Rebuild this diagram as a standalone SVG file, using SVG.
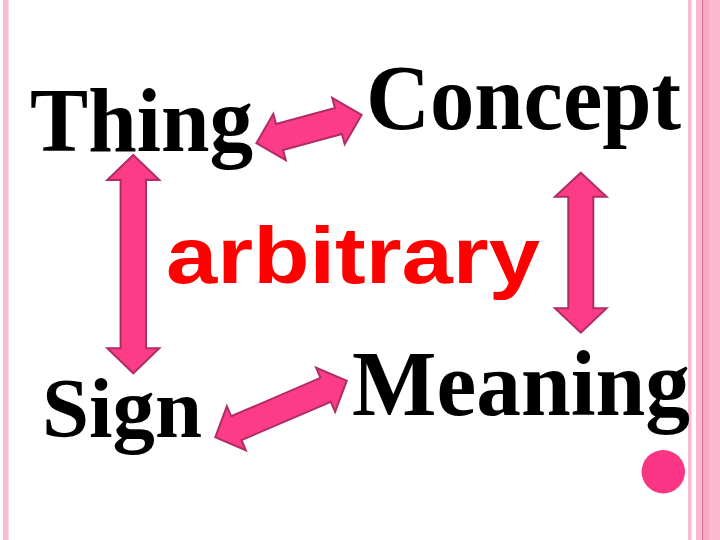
<svg xmlns="http://www.w3.org/2000/svg" width="720" height="540" viewBox="0 0 720 540">
<style>
.w{font-family:"Liberation Serif","Times New Roman",serif;font-weight:bold;fill:#000}
.arb{font-family:"Liberation Sans",Arial,sans-serif;font-weight:bold;fill:#FF0000}
.arr{fill:#FC3C87;stroke:#B02C66;stroke-width:2;stroke-linejoin:miter}
.bd{fill:#FBB8CE}
</style>
<rect width="720" height="540" fill="#fff"/>
<g id="border">
<rect class="bd" x="3" y="0" width="5.5" height="540"/>
<rect class="bd" x="688" y="0" width="3.5" height="540"/>
<rect class="bd" x="696" y="0" width="24" height="540"/>
<rect x="702.7" y="0" width="6.5" height="540" fill="#F6A9C3"/>
<rect x="702" y="0" width="0.8" height="540" fill="#C85A8A"/>
</g>
<g id="thing"><text class="w" x="30" y="151" font-size="90" textLength="223" lengthAdjust="spacingAndGlyphs">Thing</text></g>
<g id="concept"><text class="w" x="366" y="129" font-size="93" textLength="315" lengthAdjust="spacingAndGlyphs">Concept</text></g>
<g id="arbitrary"><text class="arb" x="166" y="283" font-size="79" textLength="374" lengthAdjust="spacingAndGlyphs">arbitrary</text></g>
<g id="sign"><text class="w" x="42" y="437" font-size="85" textLength="160" lengthAdjust="spacingAndGlyphs">Sign</text></g>
<g id="meaning"><text class="w" x="352" y="415" font-size="93" textLength="338" lengthAdjust="spacingAndGlyphs">Meaning</text></g>
<g id="connectors">
<polygon class="arr" points="-54.5,0 -30.5,-24 -30.5,-13.5 30.5,-13.5 30.5,-24 54.5,0 30.5,24 30.5,13.5 -30.5,13.5 -30.5,24" transform="translate(309,129) rotate(-15.1)"/>
<polygon class="arr" points="-71.6,0 -48.6,-24 -48.6,-13 48.6,-13 48.6,-24 71.6,0 48.6,24 48.6,13 -48.6,13 -48.6,24" transform="translate(281,409) rotate(-23.3)"/>
<polygon class="arr" points="133.3,155 159.3,180 146,180 146,348.3 159.3,348.3 133.3,373.3 107.3,348.3 120.6,348.3 120.6,180 107.3,180"/>
<polygon class="arr" points="580.8,172.7 606.6,196.7 593.3,196.7 593.3,308.3 606.6,308.3 580.8,332.7 555,308.3 568.3,308.3 568.3,196.7 555,196.7"/>
</g>
<circle id="dot" cx="663.3" cy="471.7" r="21.7" fill="#FB3585"/>
</svg>
